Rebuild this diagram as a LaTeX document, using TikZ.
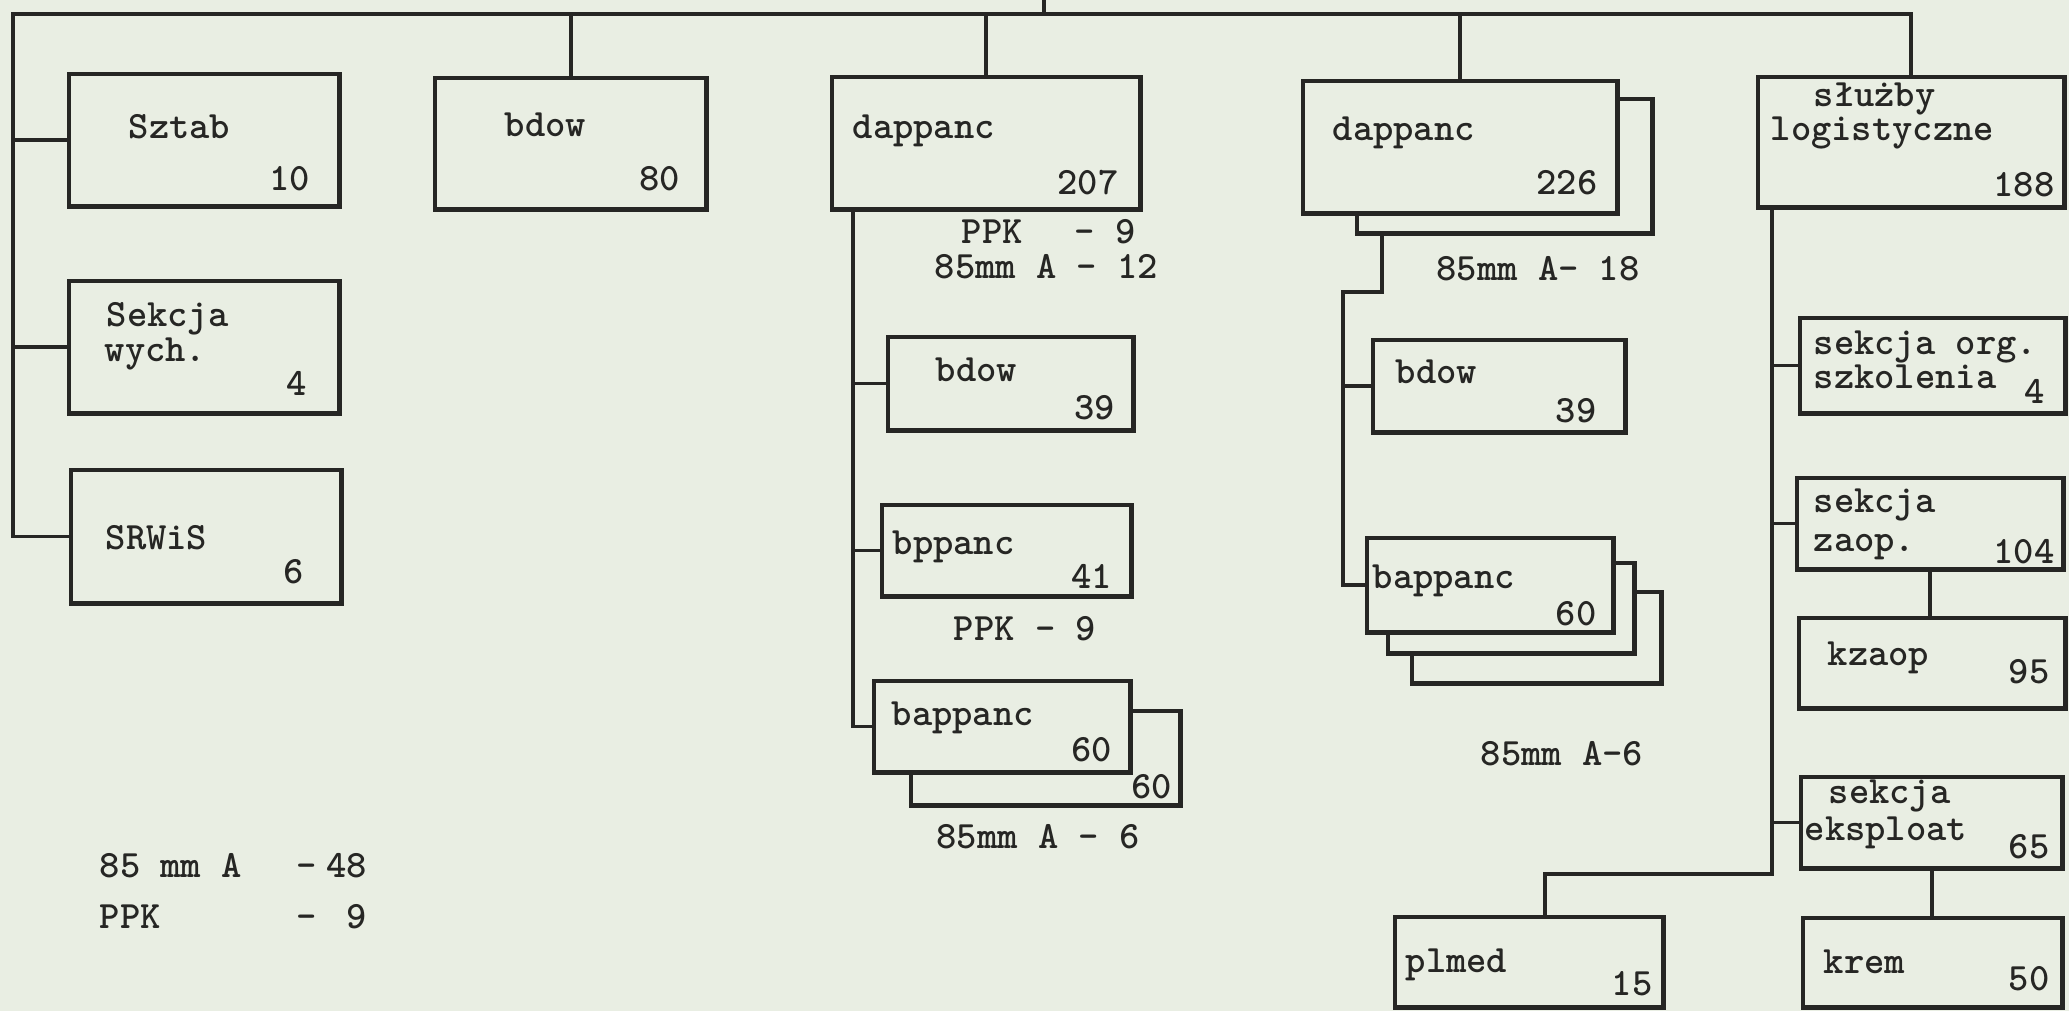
\documentclass[tikz,border=0pt]{standalone}
\usepackage{fontspec}
\usepackage{tikz}
\usetikzlibrary{calc}
\definecolor{paper}{RGB}{233,238,227}
\definecolor{ink}{RGB}{38,38,36}
\newcommand\typed{\fontsize{11}{14.5}\selectfont\ttfamily\bfseries}

\begin{document}
\begin{tikzpicture}[
    x=0.01cm, y=-0.01cm,
    unit/.style={rectangle, draw=ink, line width=1.4pt, fill=paper, anchor=north west, inner sep=0pt, outer sep=0pt},
    link/.style={draw=ink, line width=1.1pt},
    tag/.style={anchor=base west, inner sep=0pt, text=ink, font=\typed},
    num/.style={anchor=base east, inner sep=0pt, text=ink, font=\typed},
    note/.style={anchor=base, inner sep=0pt, text=ink, font=\typed}
]
\useasboundingbox (0,0) rectangle (2069,1011);
\fill[paper] (0,0) rectangle (2069,1011);
% Staff column
\node[unit, minimum width=2.70cm, minimum height=1.32cm] (sztab) at (69,74) {};
\node[unit, minimum width=2.70cm, minimum height=1.32cm] (wych) at (69,281) {};
\node[unit, minimum width=2.70cm, minimum height=1.33cm] (srwis) at (71,470) {};
\node[unit, minimum width=2.71cm, minimum height=1.31cm] (bdow) at (435,78) {};
% First dappanc
\node[unit, minimum width=3.08cm, minimum height=1.32cm] (dap1) at (832,77) {};
\node[unit, minimum width=2.45cm, minimum height=0.93cm] (dap1-bdow) at (888,337) {};
\node[unit, minimum width=2.49cm, minimum height=0.91cm] (dap1-bpp) at (882,505) {};
\node[unit, minimum width=2.69cm, minimum height=0.94cm] (dap1-bap2) at (911,711) {};
\node[unit, minimum width=2.56cm, minimum height=0.91cm] (dap1-bap) at (874,681) {};
% Second dappanc
\node[unit, minimum width=2.95cm, minimum height=1.34cm] (dap2-back) at (1357,99) {};
\node[unit, minimum width=3.14cm, minimum height=1.32cm] (dap2) at (1303,81) {};
\node[unit, minimum width=2.52cm, minimum height=0.92cm] (dap2-bdow) at (1373,340) {};
\node[unit, minimum width=2.49cm, minimum height=0.91cm] (dap2-bap3) at (1412,592) {};
\node[unit, minimum width=2.46cm, minimum height=0.90cm] (dap2-bap2) at (1388,563) {};
\node[unit, minimum width=2.46cm, minimum height=0.94cm] (dap2-bap) at (1367,538) {};
\node[unit, minimum width=2.68cm, minimum height=0.90cm] (plmed) at (1395,917) {};
% Logistics
\node[unit, minimum width=3.06cm, minimum height=1.30cm] (sluzby) at (1758,77) {};
\node[unit, minimum width=2.65cm, minimum height=0.95cm] (org) at (1800,318) {};
\node[unit, minimum width=2.66cm, minimum height=0.91cm] (zaop) at (1797,478) {};
\node[unit, minimum width=2.66cm, minimum height=0.90cm] (kzaop) at (1799,618) {};
\node[unit, minimum width=2.61cm, minimum height=0.91cm] (eksp) at (1801,777) {};
\node[unit, minimum width=2.59cm, minimum height=0.89cm] (krem) at (1803,918) {};
% Texts
\node[tag] (sztab-t) at (128,138) {Sztab};
\node[num] (sztab-n) at (311,190) {10};
\node[tag] (wych-t1) at (106,326) {Sekcja};
\node[tag] (wych-t2) at (104,361) {wych.};
\node[num] (wych-n) at (308,395) {4};
\node[tag] (srwis-t) at (105,549) {SRWiS};
\node[num] (srwis-n) at (305,583) {6};
\node[tag] (bdow-t) at (504,136) {bdow};
\node[num] (bdow-n) at (681,190) {80};
\node[tag] (arms) at (99,877) {\begin{tabular}[t]{@{}l@{}}%
  \makebox[1.97cm][l]{85 mm A}\makebox[0.30cm][l]{-}\makebox[0.40cm][r]{48}\\
  \makebox[1.97cm][l]{PPK}\makebox[0.30cm][l]{-}\makebox[0.40cm][r]{9}\end{tabular}};
\node[tag] (dap1-t) at (852,138) {dappanc};
\node[num] (dap1-n) at (1119,194) {207};
\node[tag] (dap1-arms) at (934,243) {\renewcommand\arraystretch{0.7}%
  \begin{tabular}[t]{@{}l@{}}%
  \makebox[1.40cm][l]{\hspace{0.27cm}PPK}-\hspace{0.2cm}9\\
  85mm A - 12\end{tabular}};
\node[tag] (dap1-bdow-t) at (935,381) {bdow};
\node[num] (dap1-bdow-n) at (1116,419) {39};
\node[tag] (dap1-bpp-t) at (892,554) {bppanc};
\node[num] (dap1-bpp-n) at (1113,588) {41};
\node[note] (dap1-bpp-arms) at (1025,640) {PPK - 9};
\node[tag] (dap1-bap-t) at (891,725) {bappanc};
\node[num] (dap1-bap-n) at (1113,761) {60};
\node[num] (dap1-bap2-n) at (1173,798) {60};
\node[note] (dap1-bap-arms) at (1038,848) {85mm A - 6};
\node[tag] (dap2-t) at (1332,140) {dappanc};
\node[num] (dap2-n) at (1598,194) {226};
\node[note] (dap2-arms) at (1538,280) {85mm A- 18};
\node[tag] (dap2-bdow-t) at (1395,383) {bdow};
\node[num] (dap2-bdow-n) at (1597,422) {39};
\node[tag] (dap2-bap-t) at (1372,588) {bappanc};
\node[num] (dap2-bap-n) at (1597,625) {60};
\node[note] (dap2-bap-arms) at (1562,765) {85mm A-6};
\node[tag] (plmed-t) at (1405,972) {plmed};
\node[num] (plmed-n) at (1653,995) {15};
\node[tag] (sluzby-t1) at (1813,106) {służby};
\node[tag] (sluzby-t2) at (1770,140) {logistyczne};
\node[num] (sluzby-n) at (2055,196) {188};
\node[tag] (org-t1) at (1813,354) {sekcja org.};
\node[tag] (org-t2) at (1813,388) {szkolenia};
\node[num] (org-n) at (2045,403) {4};
\node[tag] (zaop-t1) at (1813,512) {sekcja};
\node[tag] (zaop-t2) at (1813,551) {zaop.};
\node[num] (zaop-n) at (2055,563) {104};
\node[tag] (kzaop-t) at (1827,665) {kzaop};
\node[num] (kzaop-n) at (2050,683) {95};
\node[tag] (eksp-t1) at (1828,803) {sekcja};
\node[tag] (eksp-t2) at (1804,840) {eksploat};
\node[num] (eksp-n) at (2050,858) {65};
\node[tag] (krem-t) at (1823,973) {krem};
\node[num] (krem-n) at (2050,990) {50};
% Top bus
\coordinate (root) at (1044,0);
\coordinate (bus) at (13,14);
\draw[link] (srwis.west) -| (bus) -| (sluzby.north);
\draw[link] (root) -- (root |- bus);
\draw[link] (sztab.west) -- (sztab.west -| bus);
\draw[link] (wych.west) -- (wych.west -| bus);
\draw[link] (bdow.north) -- (bdow.north |- bus);
\draw[link] (dap1.north) -- (dap1.north |- bus);
\draw[link] (dap2.north) -- (dap2.north |- bus);
% First dappanc branches
\coordinate (d1) at (853,209);
\draw[link] (d1) |- (dap1-bap.west);
\draw[link] (dap1-bdow.west) -- (dap1-bdow.west -| d1);
\draw[link] (dap1-bpp.west) -- (dap1-bpp.west -| d1);
% Second dappanc branches
\coordinate (d2) at (1382,233);
\coordinate (d2j) at (1343,292);
\draw[link] (d2) |- (d2j) |- (dap2-bap.west);
\draw[link] (dap2-bdow.west) -- (dap2-bdow.west -| d2j);
% Logistics branches
\coordinate (lg) at (1772,207);
\coordinate (lgj) at (1545,874);
\draw[link] (lg) |- (lgj) -- (lgj |- plmed.north);
\draw[link] (org.west) -- (org.west -| lg);
\draw[link] (zaop.west) -- (zaop.west -| lg);
\draw[link] (eksp.west) -- (eksp.west -| lg);
\draw[link] (zaop.south) -- (zaop.south |- kzaop.north);
\draw[link] (eksp.south) -- (eksp.south |- krem.north);
\end{tikzpicture}
\end{document}
